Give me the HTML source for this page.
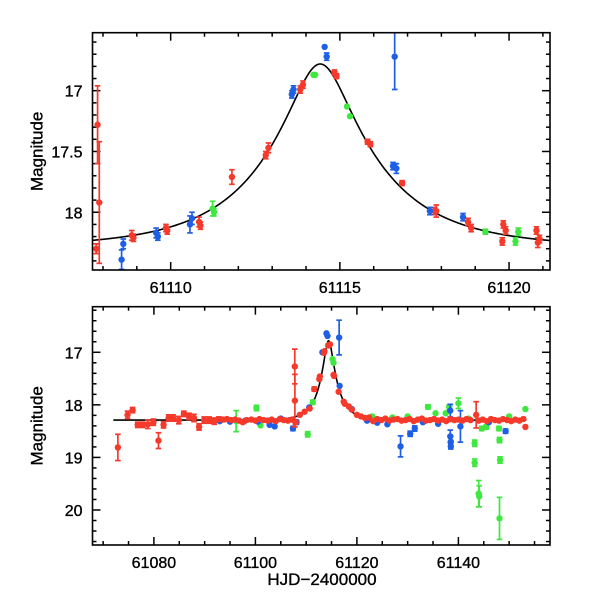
<!DOCTYPE html>
<html><head><meta charset="utf-8"><style>
body{margin:0;background:#fff}
svg text{font-family:"Liberation Sans",sans-serif;font-size:17px;fill:#000;stroke:#000;stroke-width:0.35}
svg text.tl{font-size:16px}
</style></head><body>
<svg id="c" width="600" height="600"></svg>
<script>
// Model parameters (Paczynski)
const modelT0=[61114.42], modelU0=[0.255], modelTE=[3.3], baseMag=[18.29];
// Top panel data [t, mag, err]
const topRed=[[61107.84,17.28,0.32],[61107.89,17.92,0.5],[61107.8,18.30,0.04],[61108.85,18.19,0.04],[61108.9,18.21,0.03],[61109.86,18.13,0.03],[61109.9,18.15,0.03],[61110.84,18.08,0.04],[61110.88,18.11,0.03],[61111.81,17.71,0.06],[61112.81,17.53,0.03],[61112.89,17.47,0.04],[61113.83,16.99,0.03],[61113.91,16.95,0.03],[61114.84,16.85,0.02],[61114.9,16.88,0.02],[61115.82,17.42,0.02],[61115.9,17.44,0.02],[61116.84,17.76,0.02],[61117.85,17.99,0.05],[61117.8,17.99,0.03],[61118.79,18.08,0.03],[61118.88,18.13,0.03],[61119.83,18.10,0.03],[61119.8,18.24,0.03],[61119.9,18.15,0.03],[61120.81,18.15,0.03],[61120.85,18.25,0.04],[61120.9,18.22,0.03]];
const topBlue=[[61108.55,18.39,0.08],[61108.6,18.26,0.04],[61109.57,18.17,0.04],[61109.62,18.20,0.03],[61110.57,18.10,0.07],[61110.63,18.05,0.05],[61113.58,17.03,0.03],[61113.63,16.99,0.03],[61114.55,16.64,0.01],[61114.61,16.72,0.03],[61116.62,16.72,0.27],[61116.57,17.62,0.03],[61116.67,17.64,0.04],[61117.66,17.99,0.03],[61118.64,18.04,0.03]];
const topGreen=[[61111.24,17.97,0.06],[61111.28,18.0,0.03],[61114.22,16.87,0.01],[61114.27,16.87,0.01],[61115.21,17.13,0.01],[61115.3,17.21,0.01],[61119.3,18.16,0.02],[61120.19,18.24,0.03],[61120.27,18.16,0.03]];
// Bottom panel data
const botRed=[[61072.9,18.81,0.25],[61074.8,18.19,0.07],[61075.8,18.10,0.05],[61076.8,18.38,0.05],[61077.8,18.38,0.05],[61078.8,18.37,0.08],[61079.9,18.33,0.06],[61080.9,18.68,0.15],[61081.9,18.38,0.06],[61082.9,18.25,0.06],[61083.8,18.25,0.06],[61084.9,18.29,0.07],[61085.9,18.17,0.05],[61086.9,18.22,0.06],[61087.9,18.25,0.07],[61088.9,18.42,0.06],[61089.9,18.29,0.06],[61090.9,18.29,0.06],[61091.9,18.31,0.06],[61092.8,18.27,0.04],[61093.6,18.28,0.04],[61094.4,18.27,0.03],[61095.2,18.29,0.03],[61096.0,18.28,0.03],[61096.8,18.30,0.03],[61097.5,18.33,0.03],[61098.3,18.29,0.03],[61099.2,18.28,0.03],[61100.0,18.30,0.03],[61100.8,18.27,0.03],[61101.6,18.29,0.03],[61102.4,18.30,0.03],[61103.2,18.28,0.03],[61104.0,18.31,0.03],[61104.8,18.27,0.03],[61105.6,18.29,0.03],[61106.4,18.30,0.03],[61107.2,18.28,0.03],[61107.76,17.27,0.33],[61107.78,17.92,0.5],[61107.9,18.33,0.04],[61108.75,18.19,0.03],[61109.7,18.13,0.03],[61110.7,18.07,0.03],[61111.6,17.70,0.04],[61112.6,17.51,0.03],[61112.7,17.46,0.03],[61113.5,17.01,0.03],[61113.6,16.98,0.03],[61114.4,16.87,0.02],[61114.7,16.85,0.02],[61115.4,17.43,0.02],[61115.5,17.45,0.02],[61116.4,17.75,0.02],[61117.4,17.94,0.03],[61117.6,17.98,0.03],[61118.4,18.03,0.03],[61119.0,18.09,0.03],[61120.0,18.19,0.03],[61120.8,18.22,0.03],[61121.6,18.25,0.03],[61122.4,18.24,0.03],[61123.2,18.31,0.03],[61124.0,18.27,0.03],[61124.8,18.29,0.03],[61125.6,18.26,0.03],[61126.4,18.30,0.03],[61127.2,18.28,0.03],[61128.0,18.27,0.03],[61128.8,18.30,0.03],[61129.6,18.29,0.03],[61130.4,18.27,0.03],[61131.2,18.31,0.03],[61132.0,18.28,0.03],[61132.8,18.26,0.03],[61133.6,18.30,0.03],[61134.4,18.29,0.03],[61135.2,18.27,0.03],[61136.0,18.30,0.03],[61136.8,18.28,0.03],[61137.6,18.31,0.03],[61138.4,18.27,0.03],[61139.2,18.29,0.03],[61140.0,18.28,0.03],[61140.8,18.30,0.03],[61141.6,18.27,0.03],[61142.4,18.29,0.03],[61143.5,18.19,0.25],[61144.0,18.30,0.03],[61144.8,18.28,0.03],[61145.6,18.31,0.03],[61146.4,18.27,0.03],[61147.2,18.29,0.03],[61148.0,18.30,0.03],[61148.8,18.27,0.03],[61149.6,18.29,0.03],[61150.4,18.31,0.03],[61151.2,18.28,0.03],[61152.0,18.30,0.03],[61152.8,18.27,0.03],[61153.2,18.42,0.03]];
const botBlue=[[61093.0,18.31,0.03],[61095.0,18.32,0.03],[61098.0,18.30,0.03],[61100.5,18.32,0.03],[61102.8,18.38,0.03],[61103.8,18.41,0.03],[61105.0,18.26,0.03],[61107.4,18.45,0.04],[61108.1,18.33,0.04],[61110.6,18.05,0.03],[61113.2,17.0,0.03],[61114.0,16.64,0.02],[61114.2,16.69,0.02],[61116.5,16.72,0.33],[61116.6,17.64,0.03],[61119.0,18.08,0.03],[61122.0,18.30,0.03],[61124.0,18.34,0.03],[61126.0,18.37,0.03],[61128.6,18.79,0.2],[61130.5,18.55,0.05],[61131.4,18.45,0.05],[61133.0,18.33,0.03],[61136.0,18.36,0.03],[61138.4,18.11,0.12],[61138.4,18.6,0.12],[61138.5,18.7,0.1],[61138.5,18.79,0.05],[61140.4,18.41,0.3],[61146.0,18.33,0.03],[61149.3,18.5,0.04]];
const botGreen=[[61083.0,18.26,0.03],[61096.2,18.31,0.2],[61100.2,18.06,0.05],[61101.0,18.39,0.03],[61110.3,18.56,0.05],[61111.3,17.95,0.04],[61114.3,16.87,0.02],[61115.2,17.13,0.03],[61115.4,17.2,0.03],[61123.0,18.22,0.03],[61127.0,18.24,0.03],[61130.0,18.22,0.03],[61134.0,18.04,0.04],[61135.5,18.16,0.03],[61137.5,18.16,0.03],[61138.2,18.04,0.04],[61140.0,17.97,0.1],[61142.0,18.26,0.03],[61143.2,18.73,0.06],[61143.2,19.1,0.07],[61144.0,19.69,0.25],[61144.1,19.74,0.2],[61144.6,18.45,0.04],[61145.5,18.42,0.04],[61148.0,18.45,0.04],[61148.1,18.67,0.05],[61148.2,19.05,0.06],[61148.1,20.16,0.4],[61150.0,18.22,0.03],[61153.2,18.08,0.03]];
const topXTicks=[61110,61115,61120], topYTicks=[17,17.5,18];
const botXTicks=[61080,61100,61120,61140], botYTicks=[17,18,19,20];

const NS="http://www.w3.org/2000/svg", svg=document.getElementById('c');
function mk(tag,attrs,parent){const e=document.createElementNS(NS,tag);for(const k in attrs)e.setAttribute(k,attrs[k]);(parent||svg).appendChild(e);return e;}
function model(t){const u=Math.sqrt(modelU0[0]**2+((t-modelT0[0])/modelTE[0])**2);const A=(u*u+2)/(u*Math.sqrt(u*u+4));return baseMag[0]-2.5*Math.log10(A);}
const COL={red:'#f5392b',blue:'#1e5fe6',green:'#3ee83e'};

function panel(name,box,xr,yr,xt,yt,xMinor,yMinor,mt,sets){
  const X=t=>box.x0+(t-xr[0])/(xr[1]-xr[0])*(box.x1-box.x0);
  const Y=m=>box.y0+(m-yr[0])/(yr[1]-yr[0])*(box.y1-box.y0);
  const g=mk('g',{});
  
  
  const cp='clip-'+name;
  const cl=mk('clipPath',{id:cp},g);mk('rect',{x:box.x0,y:box.y0,width:box.x1-box.x0,height:box.y1-box.y0},cl);
  const tk=mk('g',{stroke:'#000','stroke-width':1.5},g);
  
  
  const xstep=xt[1]-xt[0];
  for(let v=Math.ceil(xr[0]/xMinor)*xMinor;v<=xr[1];v+=xMinor){const x=X(v);const r=v/xstep;const maj=Math.abs(r-Math.round(r))<1e-6;const L=maj?8:4;
    mk('line',{x1:x,x2:x,y1:box.y1,y2:box.y1-L},tk);mk('line',{x1:x,x2:x,y1:box.y0,y2:box.y0+L},tk);}
  const ystep=yt[1]-yt[0];
  for(let v=Math.ceil(yr[0]/yMinor-1e-9)*yMinor;v<=yr[1]+1e-9;v+=yMinor){const y=Y(v);const r=v/ystep;const maj=Math.abs(r-Math.round(r))<1e-6;const L=maj?8:4;
    mk('line',{y1:y,y2:y,x1:box.x0,x2:box.x0+L},tk);mk('line',{y1:y,y2:y,x1:box.x1,x2:box.x1-L},tk);}
  xt.forEach(v=>{const t=mk('text',{x:X(v),y:box.y1+23,'text-anchor':'middle','class':'tl'},g);t.textContent=v;
    
    });
  yt.forEach(v=>{const t=mk('text',{x:box.x0-10,y:Y(v)+6,'text-anchor':'end','class':'tl'},g);t.textContent=v;
    
    });
  let d='';for(let i=0;i<=600;i++){const t=mt[0]+(mt[1]-mt[0])*i/600;d+=(i?'L':'M')+X(t).toFixed(2)+' '+Y(model(t)).toFixed(2);}
  const p=mk('path',{d:d,fill:'none',stroke:'#000','stroke-width':1.6,'clip-path':'url(#'+cp+')'},g);
  
  
  sets.forEach(([arr,col,sname])=>{
    const sg=mk('g',{'clip-path':'url(#'+cp+')',stroke:COL[col],fill:COL[col],'stroke-width':1.7},g);
    
    
    arr.forEach(([t,m,e])=>{const x=X(t),y=Y(m),ya=Y(m-e),yb=Y(m+e);
      if(yb-ya>4){mk('line',{x1:x,x2:x,y1:ya,y2:yb},sg);mk('line',{x1:x-2.8,x2:x+2.8,y1:ya,y2:ya},sg);mk('line',{x1:x-2.8,x2:x+2.8,y1:yb,y2:yb},sg);}
      const c=mk('circle',{cx:x,cy:y,r:3.2,stroke:'none'},sg);
      
      });
  });
  const fr=mk('rect',{x:box.x0,y:box.y0,width:box.x1-box.x0,height:box.y1-box.y0,fill:'none',stroke:'#000','stroke-width':1.6},g);
  
  
  const yl=mk('text',{x:0,y:0,transform:'translate('+(box.x0-50)+','+((box.y0+box.y1)/2)+') rotate(-90)','text-anchor':'middle'},g);
  yl.textContent='Magnitude';
  
  
}
panel('top-panel',{x0:92.5,x1:550,y0:32.7,y1:270},[61107.69,61121.21],[16.523,18.475],topXTicks,topYTicks,1,0.1,[61107.69,61121.21],
  [[topRed,'red','series-red'],[topBlue,'blue','series-blue'],[topGreen,'green','series-green']]);
panel('bottom-panel',{x0:92.5,x1:550,y0:306.7,y1:545},[61067.9,61158.05],[16.133,20.666],botXTicks,botYTicks,5,0.2,[61072,61153.4],
  [[botGreen,'green','series-green'],[botBlue,'blue','series-blue'],[botRed,'red','series-red']]);
const xl=mk('text',{x:322,y:585,'text-anchor':'middle'});
xl.textContent='HJD\u22122400000';


</script>
</body></html>
